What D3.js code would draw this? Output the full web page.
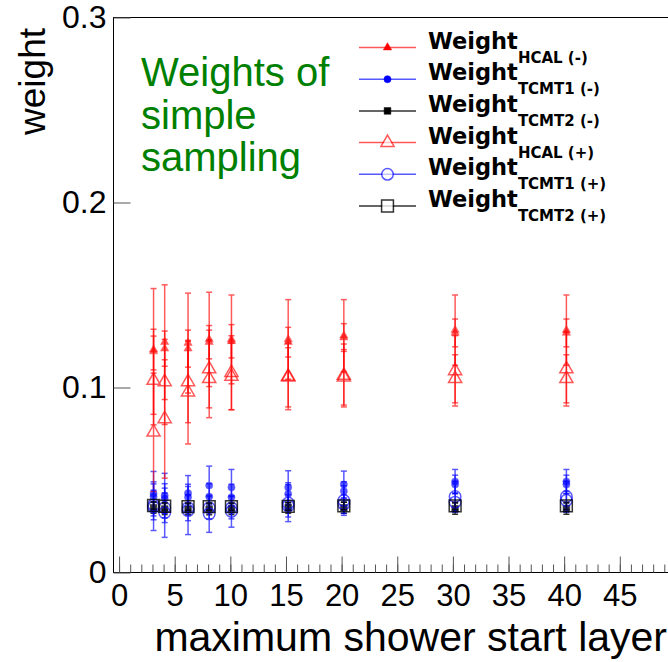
<!DOCTYPE html>
<html><head><meta charset="utf-8">
<script src="https://cdnjs.cloudflare.com/ajax/libs/d3/7.8.5/d3.min.js"></script>
<style>body{margin:0;background:#fff} svg{display:block}</style>
</head><body><svg id="c" width="668" height="662"></svg>
<script>
// ---------------- data ----------------
const layers = [3.1, 4.1, 6.2, 8.1, 10.1, 15.2, 20.2, 30.2, 40.2];
const xTicksMajor = [0, 5, 10, 15, 20, 25, 30, 35, 40, 45, 50];
const xTickLabels = ["0", "5", "10", "15", "20", "25", "30", "35", "40", "45", ""];
const yTicks = [0, 0.1, 0.2, 0.3];
const legendLabels = ["HCAL (-)", "TCMT1 (-)", "TCMT2 (-)", "HCAL (+)", "TCMT1 (+)", "TCMT2 (+)"];

// HCAL (-)
const hcalMinusA    = [0.1195, 0.1245, 0.124, 0.126, 0.126, 0.126, 0.128, 0.131, 0.131];
const hcalMinusAErr = [0.034, 0.031, 0.027, 0.0255, 0.024, 0.0215, 0.0195, 0.019, 0.019];
const hcalMinusB    = [0.1205, 0.121, 0.121, 0.1245, 0.125, 0.1245, 0.127, 0.1295, 0.1295];
const hcalMinusBErr = [0.011, 0.0095, 0.010, 0.009, 0.009, 0.008, 0.0075, 0.0075, 0.0075];
// TCMT1 (-)
const tcmt1MinusA    = [0.0426, 0.0416, 0.0429, 0.047, 0.046, 0.046, 0.0476, 0.0492, 0.0492];
const tcmt1MinusAErr = [0.012, 0.012, 0.0095, 0.0105, 0.0097, 0.009, 0.0072, 0.0065, 0.0065];
const tcmt1MinusB    = [0.041, 0.040, 0.0407, 0.041, 0.0407, 0.0425, 0.044, 0.0476, 0.0476];
const tcmt1MinusBErr = [0.008, 0.008, 0.007, 0.007, 0.007, 0.006, 0.005, 0.005, 0.005];
// TCMT2 (-)
const tcmt2MinusA    = [0.0350, 0.0343, 0.0342, 0.0342, 0.0343, 0.0350, 0.0350, 0.0345, 0.0345];
const tcmt2MinusAErr = [0.003, 0.003, 0.003, 0.003, 0.003, 0.003, 0.003, 0.003, 0.003];
// HCAL (+)
const hcalPlusA    = [0.1038, 0.103, 0.103, 0.110, 0.108, 0.106, 0.1065, 0.109, 0.110];
const hcalPlusAErr = [0.024, 0.023, 0.022, 0.021, 0.020, 0.018, 0.017, 0.019, 0.020];
const hcalPlusB    = [0.0758, 0.083, 0.0975, 0.1047, 0.106, 0.1055, 0.1055, 0.1047, 0.1047];
const hcalPlusBErr = [0.032, 0.032, 0.028, 0.021, 0.018, 0.016, 0.015, 0.013, 0.013];
// TCMT1 (+)
const tcmt1PlusA    = [0.0353, 0.0323, 0.0335, 0.0317, 0.033, 0.0375, 0.0389, 0.041, 0.041];
const tcmt1PlusAErr = [0.0126, 0.0133, 0.013, 0.010, 0.0085, 0.010, 0.008, 0.0084, 0.0084];
const tcmt1PlusB    = [0.0365, 0.035, 0.035, 0.035, 0.035, 0.036, 0.037, 0.038, 0.039];
const tcmt1PlusBErr = [0.008, 0.008, 0.007, 0.006, 0.006, 0.006, 0.005, 0.005, 0.005];
// TCMT2 (+)
const tcmt2PlusA    = [0.0362, 0.0358, 0.0356, 0.0356, 0.0356, 0.0357, 0.0360, 0.0360, 0.0360];
const tcmt2PlusAErr = [0.002, 0.002, 0.002, 0.002, 0.002, 0.002, 0.002, 0.002, 0.002];

// ---------------- series (built from arrays) ----------------
const series = [
  {label: 0, color: "#ff0000", shape: "tri",  filled: true,  size: 30,  op: 0.65, sets: [[hcalMinusA, hcalMinusAErr], [hcalMinusB, hcalMinusBErr]]},
  {label: 1, color: "#0000ff", shape: "circ", filled: true,  size: 40,  op: 0.65, sets: [[tcmt1MinusA, tcmt1MinusAErr], [tcmt1MinusB, tcmt1MinusBErr]]},
  {label: 2, color: "#000000", shape: "sq",   filled: true,  size: 45,  op: 0.8, sets: [[tcmt2MinusA, tcmt2MinusAErr]]},
  {label: 3, color: "#ff0000", shape: "tri",  filled: false, size: 75,  op: 0.65, sets: [[hcalPlusA, hcalPlusAErr], [hcalPlusB, hcalPlusBErr]]},
  {label: 4, color: "#0000ff", shape: "circ", filled: false, size: 105, op: 0.65, sets: [[tcmt1PlusA, tcmt1PlusAErr], [tcmt1PlusB, tcmt1PlusBErr]]},
  {label: 5, color: "#000000", shape: "sq",   filled: false, size: 140, op: 0.8, sets: [[tcmt2PlusA, tcmt2PlusAErr]]}
];

// ---------------- layout ----------------
const svg = d3.select("#c");
const L = 113.5, T = 17.5, B = 572.5, R = 681;
const x = d3.scaleLinear().domain([-0.5, 50.5]).range([L, R]);
const y = d3.scaleLinear().domain([0, 0.3]).range([B, T]);
const font = "'Liberation Sans', Arial, sans-serif";

const symType = {tri: d3.symbolTriangle, circ: d3.symbolCircle, sq: d3.symbolSquare};

// frame
svg.append("rect").attr("x", L).attr("y", T).attr("width", R - L).attr("height", B - T)
  .attr("fill", "none").attr("stroke", "#000").attr("stroke-width", 1);

// x axis
const minorX = d3.range(0, 51, 1);
const gxMinor = svg.append("g").attr("transform", `translate(0,${B})`)
  .call(d3.axisBottom(x).tickValues(minorX).tickSize(-8).tickFormat(""));
const gx = svg.append("g").attr("transform", `translate(0,${B})`)
  .call(d3.axisBottom(x).tickValues(xTicksMajor).tickSize(-16).tickPadding(11)
    .tickFormat((d, i) => xTickLabels[i]));
[gxMinor, gx].forEach(g => { g.select(".domain").remove(); g.selectAll("line").attr("stroke", "#555"); });
gx.selectAll("text").attr("font-family", font).attr("font-size", 31).attr("fill", "#000");

// y axis
const gy = svg.append("g").attr("transform", `translate(${L},0)`)
  .call(d3.axisLeft(y).tickValues(yTicks).tickSize(-17).tickPadding(7)
    .tickFormat(d => d === 0 ? "0" : d3.format(".1f")(d)));
gy.select(".domain").remove();
gy.selectAll("line").attr("stroke", "#555");
gy.selectAll("text").attr("font-family", font).attr("font-size", 32).attr("fill", "#000");

// axis titles
svg.append("text").attr("transform", "translate(45,28) rotate(-90)")
  .attr("text-anchor", "end").attr("font-family", font).attr("font-size", 37).text("weight");
svg.append("text").attr("x", 667).attr("y", 651).attr("text-anchor", "end")
  .attr("font-family", font).attr("font-size", 41).text("maximum shower start layer");

// data
const plot = svg.append("g");
series.forEach(s => {
  s.sets.forEach(([vals, errs]) => {
    const g = plot.append("g").attr("opacity", s.op);
    const pts = layers.map((l, i) => ({x: l, v: vals[i], e: errs[i]}));
    pts.forEach(p => {
      const cx = x(p.x), yt = y(p.v + p.e), yb = y(p.v - p.e);
      g.append("line").attr("x1", cx).attr("x2", cx).attr("y1", yt).attr("y2", yb)
        .attr("stroke", s.color).attr("stroke-width", 1.5);
      [yt, yb].forEach(yy => g.append("line").attr("x1", cx - 3).attr("x2", cx + 3)
        .attr("y1", yy).attr("y2", yy).attr("stroke", s.color).attr("stroke-width", 1.5));
      g.append("path").attr("transform", `translate(${cx},${y(p.v)})`)
        .attr("d", d3.symbol(symType[s.shape], s.size)())
        .attr("fill", s.filled ? s.color : "none")
        .attr("stroke", s.color).attr("stroke-width", s.filled ? 0.5 : 1.5);
    });
  });
});

// green annotation
const ann = svg.append("text").attr("font-family", font).attr("font-size", 40).attr("fill", "#008000");
["Weights of", "simple", "sampling"].forEach((t, i) =>
  ann.append("tspan").attr("x", 141).attr("y", 86 + i * 42.5).text(t));

// legend
const legX0 = 359, legX1 = 416, legY0 = 47.5, legDy = 31.7;
series.forEach((s, i) => {
  const yy = legY0 + i * legDy;
  const g = svg.append("g");
  g.append("line").attr("x1", legX0).attr("x2", legX1).attr("y1", yy).attr("y2", yy)
    .attr("stroke", s.color).attr("stroke-width", 1.5).attr("opacity", s.op);
  g.append("path").attr("transform", `translate(${(legX0 + legX1) / 2},${yy})`)
    .attr("d", d3.symbol(symType[s.shape], s.size)())
    .attr("fill", s.filled ? s.color : "#fff")
    .attr("stroke", s.color).attr("stroke-width", s.filled ? 0.5 : 1.5)
    .attr("opacity", s.filled ? 1 : s.op);
  const t = g.append("text").attr("x", 428).attr("y", yy + 1)
    .attr("font-family", "'DejaVu Sans', sans-serif").attr("font-weight", "bold");
  t.append("tspan").attr("font-size", 22.5).text("Weight");
  t.append("tspan").attr("font-size", 15).attr("dy", 14).text(legendLabels[s.label]);
});
</script>
</body></html>
